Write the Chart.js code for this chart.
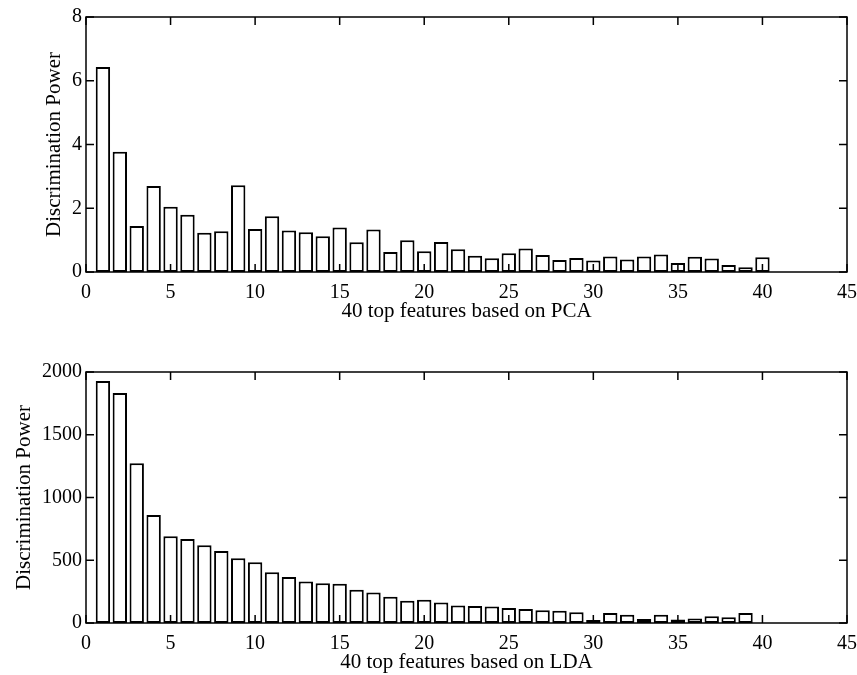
<!DOCTYPE html>
<html>
<head>
<meta charset="utf-8">
<script src="https://cdn.jsdelivr.net/npm/chart.js@4"></script>
<style>
    html, body { margin: 0; padding: 0; background: #fff; }
    .panel { position: relative; width: 857px; }
</style>
</head>
<body>
<div class="panel" style="height:337px"><canvas id="chartPca"></canvas></div>
<div class="panel" style="height:338px"><canvas id="chartLda"></canvas></div>
<script>
const features = [1, 2, 3, 4, 5, 6, 7, 8, 9, 10, 11, 12, 13, 14, 15, 16, 17, 18, 19, 20,
    21, 22, 23, 24, 25, 26, 27, 28, 29, 30, 31, 32, 33, 34, 35, 36, 37, 38, 39, 40];

const pcaPower = [6.43, 3.77, 1.44, 2.70, 2.05, 1.80, 1.23, 1.28, 2.72, 1.35,
    1.75, 1.30, 1.25, 1.12, 1.40, 0.93, 1.33, 0.63, 1.00, 0.65,
    0.94, 0.71, 0.51, 0.43, 0.59, 0.74, 0.53, 0.38, 0.44, 0.36,
    0.49, 0.39, 0.49, 0.55, 0.28, 0.48, 0.42, 0.22, 0.15, 0.46];

const ldaPower = [1928, 1833, 1273, 861, 691, 670, 619, 574, 516, 484,
    404, 367, 330, 316, 312, 265, 244, 210, 178, 186,
    164, 140, 135, 132, 120, 112, 101, 98, 85, 24,
    80, 66, 32, 66, 27, 35, 53, 45, 80, 0];

const xTicks = [0, 5, 10, 15, 20, 25, 30, 35, 40, 45];
const pcaTicks = [0, 2, 4, 6, 8];
const ldaTicks = [0, 500, 1000, 1500, 2000];

const FONT = "Liberation Serif";

// matlab style box with ticks pointing inwards
const frameTicks = {
    id: "frameTicks",
    afterDatasetsDraw(chart) {
        const {ctx, chartArea: a, scales} = chart;
        ctx.save();
        ctx.strokeStyle = "#000";
        ctx.lineWidth = 1.5;
        ctx.strokeRect(a.left, a.top, a.right - a.left, a.bottom - a.top);
        ctx.beginPath();
        scales.x.ticks.forEach(t => {
            const px = scales.x.getPixelForValue(t.value);
            ctx.moveTo(px, a.bottom);
            ctx.lineTo(px, a.bottom - 8);
            ctx.moveTo(px, a.top);
            ctx.lineTo(px, a.top + 8);
        });
        scales.y.ticks.forEach(t => {
            const py = scales.y.getPixelForValue(t.value);
            ctx.moveTo(a.left, py);
            ctx.lineTo(a.left + 8, py);
            ctx.moveTo(a.right, py);
            ctx.lineTo(a.right - 8, py);
        });
        ctx.stroke();
        ctx.restore();
    }
};

function makeChart(id, values, yTicks, xTitle, padTop, padBottom, yTitlePad) {
    return new Chart(document.getElementById(id), {
        type: "bar",
        data: {
            datasets: [{
                data: features.map((f, i) => ({x: f, y: values[i]})),
                backgroundColor: "#ffffff",
                borderColor: "#000000",
                borderWidth: 2,
                borderSkipped: false,
                categoryPercentage: 1,
                barPercentage: 0.85
            }]
        },
        options: {
            responsive: true,
            maintainAspectRatio: false,
            animation: false,
            layout: {
                padding: {left: 0, right: 10, top: padTop, bottom: padBottom}
            },
            scales: {
                x: {
                    type: "linear",
                    offset: false,
                    min: 0,
                    max: 45,
                    afterBuildTicks: scale => {
                        scale.ticks = xTicks.map(v => ({value: v}));
                    },
                    afterFit: scale => {
                        scale.height = 52;
                        scale.paddingLeft = 0;
                        scale.paddingRight = 10;
                    },
                    grid: {display: false, drawTicks: false, offset: false},
                    border: {display: false},
                    ticks: {
                        padding: 9,
                        maxRotation: 0,
                        color: "#000",
                        font: {family: FONT, size: 20}
                    },
                    title: {
                        display: true,
                        text: xTitle,
                        color: "#000",
                        padding: {top: 0, bottom: 0},
                        font: {family: FONT, size: 21}
                    }
                },
                y: {
                    min: yTicks[0],
                    max: yTicks[yTicks.length - 1],
                    afterBuildTicks: scale => {
                        scale.ticks = yTicks.map(v => ({value: v}));
                    },
                    afterFit: scale => { scale.width = 86; },
                    grid: {display: false, drawTicks: false},
                    border: {display: false},
                    ticks: {
                        padding: 4,
                        color: "#000",
                        font: {family: FONT, size: 20},
                        callback: v => String(v)
                    },
                    title: {
                        display: true,
                        text: "Discrimination Power",
                        color: "#000",
                        padding: {top: yTitlePad, bottom: 0},
                        font: {family: FONT, size: 21}
                    }
                }
            },
            plugins: {
                legend: {display: false},
                tooltip: {enabled: false}
            }
        },
        plugins: [frameTicks]
    });
}

makeChart("chartPca", pcaPower, pcaTicks, "40 top features based on PCA", 17, 13, 42);
makeChart("chartLda", ldaPower, ldaTicks, "40 top features based on LDA", 35, 0, 12);
</script>
</body>
</html>
